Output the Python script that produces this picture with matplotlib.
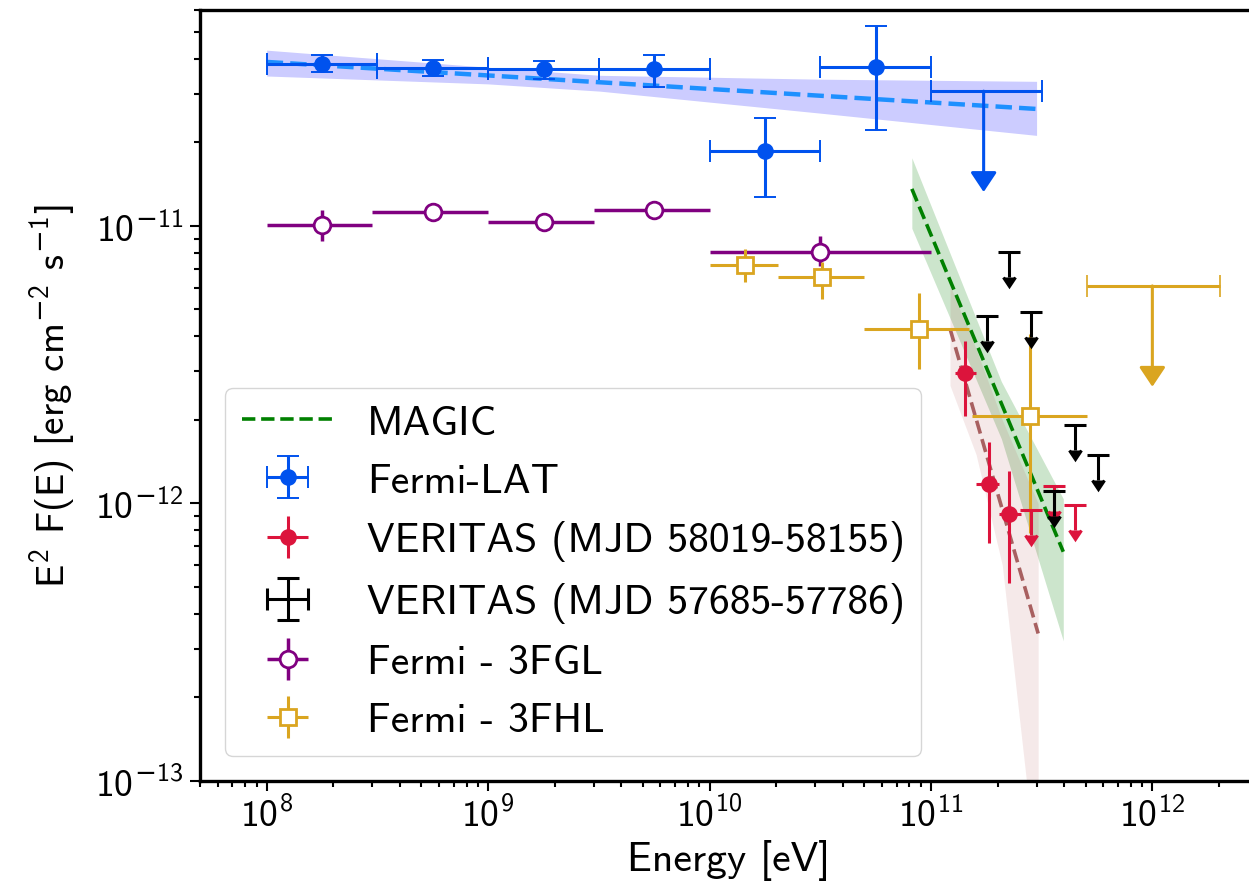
import numpy as np
from matplotlib import pyplot as plt
from matplotlib.ticker import NullFormatter, FuncFormatter

plt.rcParams['font.family'] = 'cmss10'
plt.rcParams['mathtext.fontset'] = 'custom'
plt.rcParams['mathtext.rm'] = 'cmss10'
plt.rcParams['mathtext.sf'] = 'DejaVu Sans'
plt.rcParams['mathtext.default'] = 'rm'
plt.rcParams['axes.unicode_minus'] = False

# Fermi-LAT (this work)
lat_e = [1.78e8, 5.62e8, 1.78e9, 5.62e9, 1.78e10, 5.62e10]
lat_e_lo = [1e8, 3.16e8, 1e9, 3.16e9, 1e10, 3.16e10]
lat_e_hi = [3.16e8, 1e9, 3.16e9, 1e10, 3.16e10, 1e11]
lat_f = [3.83e-11, 3.70e-11, 3.67e-11, 3.67e-11, 1.86e-11, 3.73e-11]
lat_f_lo = [3.58e-11, 3.46e-11, 3.38e-11, 3.18e-11, 1.27e-11, 2.21e-11]
lat_f_hi = [4.12e-11, 3.95e-11, 3.92e-11, 4.12e-11, 2.44e-11, 5.24e-11]
lat_ul_e, lat_ul_lo, lat_ul_hi, lat_ul_f = 1.73e11, 1e11, 3.16e11, 3.06e-11

lat_model_e = [1e8, 3e11]
lat_model_f = [3.9e-11, 2.64e-11]
lat_band_e = [1e8, 1e9, 3.2e9, 3.16e10, 3e11]
lat_band_up = [4.30e-11, 3.73e-11, 3.49e-11, 3.38e-11, 3.32e-11]
lat_band_dn = [3.47e-11, 3.25e-11, 3.06e-11, 2.55e-11, 2.12e-11]

# Fermi 3FGL
fgl_e = [1.78e8, 5.62e8, 1.78e9, 5.62e9, 3.16e10]
fgl_e_lo = [1e8, 3e8, 1e9, 3e9, 1e10]
fgl_e_hi = [3e8, 1e9, 3e9, 1e10, 1e11]
fgl_f = [1.01e-11, 1.12e-11, 1.03e-11, 1.14e-11, 8.06e-12]
fgl_f_lo = [8.83e-12, 1.09e-11, 1.0e-11, 1.11e-11, 7.2e-12]
fgl_f_hi = [1.14e-11, 1.15e-11, 1.06e-11, 1.17e-11, 9.2e-12]

# Fermi 3FHL
fhl_e = [1.44e10, 3.23e10, 8.87e10, 2.79e11]
fhl_e_lo = [1e10, 2.04e10, 5e10, 1.54e11]
fhl_e_hi = [2.04e10, 5e10, 1.48e11, 5.08e11]
fhl_f = [7.24e-12, 6.55e-12, 4.26e-12, 2.06e-12]
fhl_f_lo = [6.3e-12, 5.46e-12, 3.06e-12, 7.8e-13]
fhl_f_hi = [8.26e-12, 7.42e-12, 5.74e-12, 4.09e-12]
fhl_ul_e, fhl_ul_lo, fhl_ul_hi, fhl_ul_f = 1.0e12, 5.08e11, 2.03e12, 6.08e-12

# MAGIC
magic_e = [8.2e10, 3.96e11]
magic_f = [1.36e-11, 6.7e-13]
magic_band_e = [8.2e10, 2.08e11, 3.96e11]
magic_band_up = [1.76e-11, 2.75e-12, 1.04e-12]
magic_band_dn = [9.8e-12, 1.71e-12, 3.2e-13]

# VERITAS MJD 58019-58155
ver_e = [1.43e11, 1.82e11, 2.26e11]
ver_e_lo = [1.28e11, 1.60e11, 2.02e11]
ver_e_hi = [1.60e11, 2.02e11, 2.56e11]
ver_f = [2.96e-12, 1.18e-12, 9.2e-13]
ver_f_lo = [2.07e-12, 7.2e-13, 5.15e-13]
ver_f_hi = [3.86e-12, 1.67e-12, 1.31e-12]
ver_ul_e = [2.84e11, 3.61e11, 4.49e11]
ver_ul_f = [9.44e-13, 1.16e-12, 9.84e-13]

ver_model_e = [1.22e11, 3.05e11]
ver_model_f = [4.26e-12, 3.4e-13]
ver_band_e = [1.22e11, 1.6e11, 2.1e11, 2.7e11, 3.05e11]
ver_band_up = [6.1e-12, 3.6e-12, 2.0e-12, 1.25e-12, 1.0e-12]
ver_band_dn = [2.66e-12, 1.5e-12, 6e-13, 1e-13, 3e-14]

# VERITAS MJD 57685-57786 (upper limits)
old_ul_e = [2.26e11, 1.80e11, 2.84e11, 4.49e11, 5.7e11, 3.61e11]
old_ul_f = [8.06e-12, 4.74e-12, 4.91e-12, 1.91e-12, 1.50e-12, 1.11e-12]

c_lat = '#0052ee'
ul_drop = 0.813   # length of small upper-limit bars (fraction of value)
big_drop = 0.433  # length of large upper-limit arrows


def asym(vals, lo, hi):
    vals = np.asarray(vals)
    return [vals - np.asarray(lo), np.asarray(hi) - vals]


def shrink_carets(container, size):
    # errorbar draws the limit arrows as caret markers as large as the caps
    for line in container.lines[1]:
        if line.get_marker() not in ('_', '|'):
            line.set_markersize(size)


def decade_label(v, pos):
    # cmss10 has no usable minus sign, take it from DejaVu (mathsf)
    p = int(round(np.log10(v)))
    sign = r'\mathsf{-}' if p < 0 else ''
    return r'$10^{%s%d}$' % (sign, abs(p))


fig = plt.figure(figsize=(12.49, 8.87), dpi=100)
ax = fig.add_axes([200 / 1249, 105 / 887, 1058 / 1249, 771 / 887])
ax.set_xscale('log')
ax.set_yscale('log')

# model bands and lines
ax.fill_between(lat_band_e, lat_band_dn, lat_band_up, color='blue', alpha=0.2, lw=0, zorder=1)
ax.fill_between(magic_band_e, magic_band_dn, magic_band_up, color='green', alpha=0.2, lw=0, zorder=1)
ax.fill_between(ver_band_e, ver_band_dn, ver_band_up, color='brown', alpha=0.1, lw=0, zorder=1)
ax.plot(lat_model_e, lat_model_f, '--', color='dodgerblue', lw=3.2, zorder=4)
magic_line, = ax.plot(magic_e, magic_f, '--', color='green', lw=2.6, zorder=4, label='MAGIC')
ax.plot(ver_model_e, ver_model_f, '--', color='#a86060', lw=2.6, zorder=4)

# Fermi-LAT
lat = ax.errorbar(lat_e, lat_f, xerr=asym(lat_e, lat_e_lo, lat_e_hi), yerr=asym(lat_f, lat_f_lo, lat_f_hi),
                  fmt='o', color=c_lat, ms=11, lw=2.2, capsize=8, capthick=1.4, zorder=5)
ax.errorbar([lat_ul_e], [lat_ul_f], xerr=[[lat_ul_e - lat_ul_lo], [lat_ul_hi - lat_ul_e]],
            fmt='none', ecolor=c_lat, lw=2.2, capsize=8, capthick=1.4, zorder=5)
ax.annotate('', xy=(lat_ul_e, lat_ul_f * big_drop), xytext=(lat_ul_e, lat_ul_f),
            arrowprops=dict(arrowstyle='-|>,head_width=0.4,head_length=0.6', color=c_lat, lw=2.2,
                            shrinkA=0, shrinkB=0, mutation_scale=20), zorder=5)

# 3FGL
fgl = ax.errorbar(fgl_e, fgl_f, xerr=asym(fgl_e, fgl_e_lo, fgl_e_hi), yerr=asym(fgl_f, fgl_f_lo, fgl_f_hi),
                  fmt='o', color='purple', mfc='white', mew=2, ms=12, lw=2.5, capsize=0, zorder=5)

# 3FHL
fhl = ax.errorbar(fhl_e, fhl_f, xerr=asym(fhl_e, fhl_e_lo, fhl_e_hi), yerr=asym(fhl_f, fhl_f_lo, fhl_f_hi),
                  fmt='s', color='goldenrod', mfc='white', mew=2, ms=11, lw=2.2, capsize=0, zorder=5)
ax.errorbar([fhl_ul_e], [fhl_ul_f], xerr=[[fhl_ul_e - fhl_ul_lo], [fhl_ul_hi - fhl_ul_e]],
            fmt='none', ecolor='goldenrod', lw=2.2, capsize=8, capthick=1.2, zorder=5)
ax.annotate('', xy=(fhl_ul_e, fhl_ul_f * big_drop), xytext=(fhl_ul_e, fhl_ul_f),
            arrowprops=dict(arrowstyle='-|>,head_width=0.4,head_length=0.6', color='goldenrod', lw=2.2,
                            shrinkA=0, shrinkB=0, mutation_scale=20), zorder=5)

# VERITAS 58019-58155
ver = ax.errorbar(ver_e, ver_f, xerr=asym(ver_e, ver_e_lo, ver_e_hi), yerr=asym(ver_f, ver_f_lo, ver_f_hi),
                  fmt='o', color='crimson', ms=11, lw=2.2, capsize=0, zorder=6)
ver_ul_f = np.array(ver_ul_f)
ver_ul = ax.errorbar(ver_ul_e, ver_ul_f, yerr=ver_ul_f * (1 - ul_drop), uplims=True,
                     fmt='none', color='crimson', lw=2.2, capsize=8, capthick=2.2, zorder=6)
shrink_carets(ver_ul, 9)

# VERITAS 57685-57786
old_ul_f = np.array(old_ul_f)
old_ul = ax.errorbar(old_ul_e, old_ul_f, yerr=old_ul_f * (1 - ul_drop), uplims=True,
                     fmt='none', color='black', lw=2.2, capsize=8, capthick=2.2, zorder=7)
shrink_carets(old_ul, 9)
old = ax.errorbar([np.nan], [np.nan], xerr=[1.0], yerr=[1.0], fmt='none', color='black',
                  lw=2.2, capsize=8, capthick=2.2)

ax.set_xlim(5e7, 3e12)
ax.set_ylim(1e-13, 6e-11)
ax.xaxis.set_major_formatter(FuncFormatter(decade_label))
ax.yaxis.set_major_formatter(FuncFormatter(decade_label))
ax.yaxis.set_minor_formatter(NullFormatter())
ax.xaxis.set_minor_formatter(NullFormatter())
ax.set_xlabel('Energy [eV]', fontsize=30)
ax.set_ylabel(r'E$^{2}$ F(E) [erg cm$^{\mathsf{-}2}$ s$^{\mathsf{-}1}$]', fontsize=28, labelpad=12)
ax.tick_params(which='both', labelsize=27, width=1.5)
ax.tick_params(which='major', length=7)
ax.tick_params(which='minor', length=4)
ax.tick_params(axis='y', which='major', pad=5)
for sp in ax.spines.values():
    sp.set_linewidth(2.4)

ax.legend([magic_line, lat, ver, old, fgl, fhl],
          ['MAGIC', 'Fermi-LAT', 'VERITAS (MJD 58019-58155)', 'VERITAS (MJD 57685-57786)',
           'Fermi - 3FGL', 'Fermi - 3FHL'],
          loc='lower left', fontsize=30, handlelength=2.2, borderaxespad=0.6, framealpha=0.8)

fig.savefig('out.png', dpi=100)
